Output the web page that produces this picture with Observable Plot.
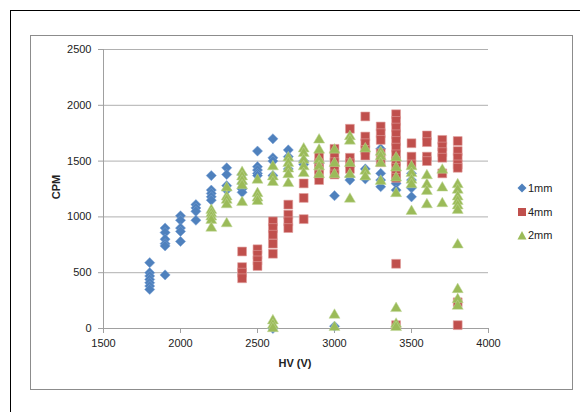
<!DOCTYPE html>
<html><head><meta charset="utf-8">
<script src="https://cdn.jsdelivr.net/npm/d3@7"></script>
<script src="https://cdn.jsdelivr.net/npm/@observablehq/plot@0.6"></script>
<style>
body{margin:0;background:#fff;}
#wrap{position:relative;width:580px;height:412px;overflow:hidden;font-family:"Liberation Sans",Arial,sans-serif;background:#fff;}
#wrap > svg{position:absolute;left:0;top:0;}
.outer{position:absolute;left:10px;top:10px;width:600px;height:440px;border-left:1.5px solid #000;border-top:1.5px solid #000;pointer-events:none;}
.inner{position:absolute;left:30px;top:35px;width:541px;height:353px;border:1px solid #8c8c8c;pointer-events:none;}
.xt{position:absolute;left:245px;width:100px;top:357px;text-align:center;font-weight:bold;font-size:11px;color:#222;}
.yt{position:absolute;left:31px;top:181px;width:50px;text-align:center;font-weight:bold;font-size:11px;color:#222;transform:rotate(-90deg);}
.leg{position:absolute;left:517px;font-size:11px;color:#222;line-height:14px;white-space:nowrap;}
#wrap .leg svg{position:static;display:inline-block;vertical-align:-1px;margin-right:1px;}
</style></head><body><div id="wrap"></div>
<script>
const hvLevels = [1800,1900,2000,2100,2200,2300,2400,2500,2600,2700,2800,2900,3000,3100,3200,3300,3400,3500,3600,3700,3800];
const seriesNames = ["1mm","4mm","2mm"];
const seriesColors = ["#4F81BD","#C0504D","#9BBB59"];
const xTicks = [1500,2000,2500,3000,3500,4000];
const yTicks = [0,500,1000,1500,2000,2500];

const cpm1mm = [
  [590,500,470,440,410,380,350],
  [900,860,800,760,740,480],
  [1010,970,900,870,780],
  [1110,1080,1050,970],
  [1370,1240,1210,1180,1150],
  [1440,1380,1280,1240],
  [1380,1300,1250,1220],
  [1590,1450,1420,1390,1370],
  [1700,1530,1500,1370,0],
  [1600,1540,1430],
  [1500,1470],
  [1480],
  [1190,20],
  [1360,1330],
  [1430,1340],
  [1610,1390,1330,1270],
  [1300,1240],
  [1390,1330,1260,1180],
  [],[],[]
];
const cpm4mm = [
  [],[],[],[],[],[],
  [690,550,500,450],
  [710,660,610,560],
  [960,900,840,760,670],
  [1110,1020,960,900],
  [1300,1170,980],
  [1540,1480,1430,1380,1330],
  [1610,1550,1490,1430,1380],
  [1790,1530,1480,1430],
  [1900,1720,1660,1600,1550],
  [1810,1750,1690,1570,1490],
  [1920,1860,1800,1740,1680,1620,1560,1500,1440,1380,1350,580,30],
  [1660,1540,1470],
  [1730,1670,1540,1500],
  [1690,1630,1580,1530,1390],
  [1680,1590,1530,1470,1440,235,30]
];
const cpm2mm = [
  [],[],[],[],
  [1060,1030,1000,970,900],
  [1260,1180,1150,1110,940],
  [1400,1360,1320,1280,1130],
  [1330,1210,1170,1140],
  [1450,1360,1310,70,30,0],
  [1530,1480,1430,1380,1300],
  [1610,1570,1510,1450,1390],
  [1690,1600,1510,1450,1380],
  [1600,1480,1380,120,10],
  [1720,1680,1480,1380,1160],
  [1610,1410,1360],
  [1580,1540,1480,1320],
  [1530,1440,1350,1210,180,40,10],
  [1450,1390,1330,1290,1050],
  [1370,1290,1230,1110],
  [1420,1260,1120],
  [1290,1240,1180,1140,1100,1060,750,350,260,200]
];

function flatten(cols){
  const out=[];
  cols.forEach((vals,i)=>vals.forEach(v=>out.push({hv:hvLevels[i],cpm:v})));
  return out;
}
const d1 = flatten(cpm1mm), d4 = flatten(cpm4mm), d2 = flatten(cpm2mm);

const chart = Plot.plot({
  width:580, height:412,
  marginLeft:103, marginRight:92, marginTop:49, marginBottom:84,
  style:{fontFamily:"Liberation Sans, Arial, sans-serif", fontSize:"11px", color:"#222", background:"none"},
  x:{domain:[1500,4000]},
  y:{domain:[0,2500]},
  marks:[
    Plot.gridY(yTicks,{stroke:"#b0b0b0",strokeOpacity:1}),
    Plot.ruleX([1500],{stroke:"#a0a0a0"}),
    Plot.ruleY([0],{stroke:"#a0a0a0"}),
    Plot.axisY(yTicks,{tickSize:5,tickPadding:7,stroke:"#a0a0a0",label:null,fill:"#222",tickFormat:d3.format("d")}),
    Plot.axisX(xTicks,{tickSize:5,tickPadding:6,stroke:"#a0a0a0",label:null,fill:"#222",tickFormat:d3.format("d")}),
    Plot.dot(d1,{x:"hv",y:"cpm",symbol:d3.symbolDiamond2,r:4.6,fill:seriesColors[0],stroke:"#7da3d6",strokeWidth:0.5}),
    Plot.dot(d4,{x:"hv",y:"cpm",symbol:"square",r:5.0,fill:seriesColors[1],stroke:"#e0a09e",strokeWidth:0.6}),
    Plot.dot(d2,{x:"hv",y:"cpm",symbol:"triangle",r:4.1,fill:seriesColors[2],stroke:"#c0d89a",strokeWidth:0.5})
  ]
});
const wrap = document.getElementById("wrap");
wrap.appendChild(chart);

function addDiv(cls, html, style){
  const d=document.createElement("div"); d.className=cls; d.innerHTML=html; if(style) d.setAttribute("style",style); wrap.appendChild(d); return d;
}
addDiv("inner","");
addDiv("outer","");
addDiv("xt","HV (V)");
addDiv("yt","CPM");
const legendSym = [
  '<svg width="10" height="10"><path d="M5,0.5L9.5,5L5,9.5L0.5,5Z" fill="'+seriesColors[0]+'"/></svg>',
  '<svg width="10" height="10"><rect x="1" y="1" width="8" height="8" fill="'+seriesColors[1]+'"/></svg>',
  '<svg width="10" height="10"><path d="M5,1L9.5,9.5L0.5,9.5Z" fill="'+seriesColors[2]+'"/></svg>'
];
const legTops=[181,205,228];
seriesNames.forEach((n,i)=>addDiv("leg", legendSym[i]+n, "top:"+legTops[i]+"px"));
</script>
</body></html>
